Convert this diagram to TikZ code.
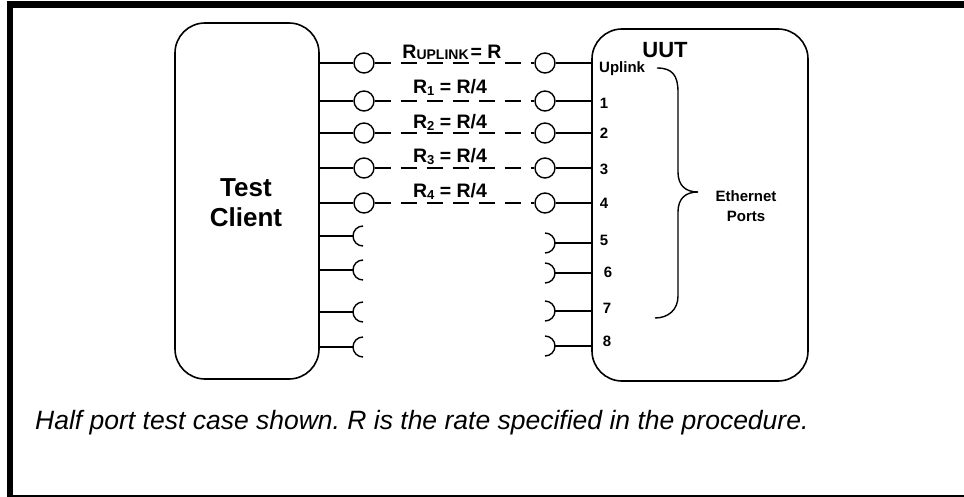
\documentclass[tikz,border=0pt]{standalone}
\usepackage{fontspec}
\setmainfont{Liberation Sans}
\frenchspacing
\begin{document}
\begin{tikzpicture}[x=1pt,y=-1pt,
  box/.style={draw,line width=1.6pt,rounded corners=30pt,inner sep=0pt},
  port/.style={draw,circle,line width=1.4pt,minimum size=20pt,inner sep=0pt,fill=white},
  wire/.style={line width=1.6pt},
  dwire/.style={line width=1.4pt,dash pattern=on 16pt off 10pt},
  sock/.style={line width=1.4pt},
  lbl/.style={font=\bfseries\fontsize{19.5}{22}\selectfont,inner sep=0pt},
  num/.style={font=\bfseries\fontsize{15}{17}\selectfont,inner sep=0pt}]
\useasboundingbox (0,0) rectangle (964,497);
% frame
\fill (7,1) rectangle (964,8);
\fill (7,1) rectangle (13,497);
\fill (13,494.5) rectangle (964,497);
% boxes
\node[box,minimum width=144pt,minimum height=356pt] (tc) at (247,201) {};
\node[box,minimum width=216pt,minimum height=352pt] (uut) at (700,205) {};
\node[font=\bfseries\fontsize{26}{30}\selectfont,align=center] (tct) at (246,203) {Test\\Client};
\node[font=\bfseries\fontsize{22}{24}\selectfont,inner sep=0pt] (uutt) at (665,50) {UUT};
% connected ports
\foreach \i/\y in {0/63,1/101,2/133,3/168,4/203}{
  \node[port] (lc\i) at (364,\y) {};
  \node[port] (rc\i) at (545,\y) {};
  \draw[wire] (tc.east |- lc\i) -- (lc\i);
  \draw[dwire] (lc\i) -- (rc\i);
  \draw[wire] (rc\i) -- (uut.west |- rc\i);
}
% open sockets
\foreach \i/\yl/\yr in {5/236/243,6/270/273,7/312/311,8/347/346}{
  \coordinate (ls\i) at (353,\yl);
  \coordinate (rs\i) at (555,\yr);
  \draw[wire] (tc.east |- ls\i) -- (ls\i);
  \draw[sock] (ls\i) ++(10,-10) arc[start angle=-90,end angle=-270,radius=10];
  \draw[wire] (rs\i) -- (uut.west |- rs\i);
  \draw[sock] (rs\i) ++(-10,-10) arc[start angle=-90,end angle=90,radius=10];
}
% rate labels
\node[lbl] (r0) at (452,52) {R\raisebox{-1pt}{\fontsize{14}{14}\selectfont UPLINK}\hspace{2pt}= R};
\node[lbl] (r1) at (450,87) {R\raisebox{-2pt}{\fontsize{13}{13}\selectfont 1} = R/4};
\node[lbl] (r2) at (450,122) {R\raisebox{-2pt}{\fontsize{13}{13}\selectfont 2} = R/4};
\node[lbl] (r3) at (450,157) {R\raisebox{-2pt}{\fontsize{13}{13}\selectfont 3} = R/4};
\node[lbl] (r4) at (450,191) {R\raisebox{-2pt}{\fontsize{13}{13}\selectfont 4} = R/4};
% port numbers
\node[num,anchor=west] (upl) at (599,69) {Uplink};
\node[num] (n1) at (604,103) {1};
\node[num] (n2) at (604,133) {2};
\node[num] (n3) at (604,169) {3};
\node[num] (n4) at (604,203) {4};
\node[num] (n5) at (604,240) {5};
\node[num] (n6) at (608,272) {6};
\node[num] (n7) at (607,308) {7};
\node[num] (n8) at (607,341) {8};
% brace
\draw[line width=1.4pt] (657,68) .. controls (672,68) and (678,75) .. (678,92) -- (678,172)
  .. controls (678,186) and (686,192) .. (698,192)
  .. controls (686,192) and (678,198) .. (678,212) -- (678,296)
  .. controls (678,310) and (668,318) .. (655,318);
\node[num,align=center] (eth) at (746,206) {Ethernet\\[3pt]Ports};
% caption
\node[anchor=west,inner sep=0pt,font=\itshape\fontsize{26.5}{30}\selectfont] (cap) at (35,423)
  {Half port test case shown. R is the rate specified in the procedure.};
\end{tikzpicture}
\end{document}
